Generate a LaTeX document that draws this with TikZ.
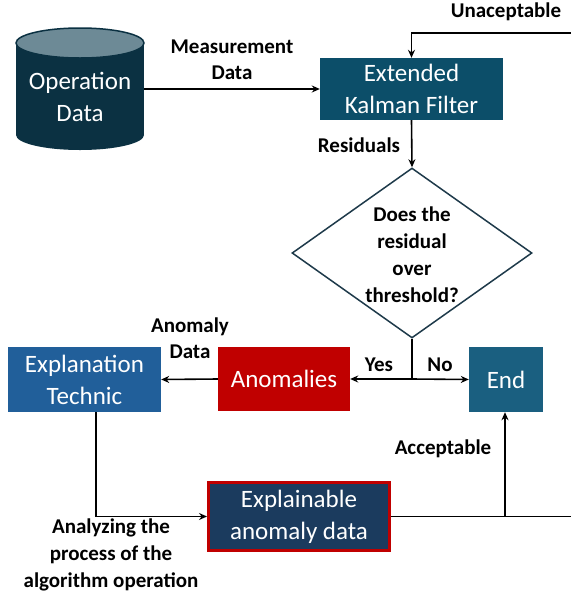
\documentclass[tikz,border=0pt]{standalone}
\usepackage{fontspec}
\setmainfont{Carlito}
\usetikzlibrary{shapes.geometric,arrows.meta}
\definecolor{cylbody}{HTML}{0B3142}
\definecolor{cyltop}{HTML}{6D8A96}
\definecolor{ekfblue}{HTML}{0C4E69}
\definecolor{anomred}{HTML}{C00000}
\definecolor{endblue}{HTML}{1A5F80}
\definecolor{techblue}{HTML}{215F9A}
\definecolor{xnavy}{HTML}{1B3B5E}
\definecolor{dialine}{HTML}{1E3A4A}
\begin{document}
\begin{tikzpicture}[x=1pt,y=-1pt,
  box/.style={rectangle, inner sep=0, text=white, align=center, font=\fontsize{25}{32}\selectfont},
  lbl/.style={align=center, inner sep=0, font=\bfseries\fontsize{21}{26}\selectfont},
  conn/.style={line width=1.6pt, -{Stealth[length=8pt,width=7pt]}},
  plain/.style={line width=1.6pt}]
\useasboundingbox (0,0) rectangle (571,598);

% database cylinder
\fill[cylbody] (16,43) rectangle (144,135);
\fill[cylbody] (80,135) ellipse [x radius=64, y radius=15];
\filldraw[fill=cyltop, draw=cylbody, line width=1.5pt] (80,43) ellipse [x radius=64, y radius=15];
\node[rectangle, inner sep=0, minimum width=128pt, minimum height=122pt] (opdata) at (80,89) {};
\node[box] (opdatatext) at (80,97) {Operation\\Data};

% process boxes
\node[box, fill=ekfblue, minimum width=183pt, minimum height=62pt] (ekf) at (411.5,89) {Extended\\Kalman Filter};
\node[diamond, draw=dialine, line width=1.5pt, fill=white, minimum width=240pt, minimum height=170pt, inner sep=0] (dec) at (412,253) {};
\node[lbl, font=\bfseries\fontsize{21}{27}\selectfont] (dectext) at (412,255) {Does the\\residual\\over\\threshold?};
\node[box, fill=anomred, minimum width=132pt, minimum height=64pt] (anom) at (284,379) {Anomalies};
\node[box, fill=endblue, minimum width=74pt, minimum height=65pt] (endn) at (506,379.5) {End};
\node[box, fill=techblue, minimum width=153pt, minimum height=65pt] (tech) at (84.5,379.5) {Explanation\\Technic};
\node[box, fill=xnavy, draw=anomred, line width=3pt, minimum width=181pt, minimum height=68pt] (xad) at (299,516.5) {Explainable\\anomaly data};

% routing points
\coordinate (split) at (412,379);
\coordinate (topright) at (572,33);
\coordinate (botright) at (572,516.5);
\coordinate (accfoot) at (505,516.5);

% connectors
\draw[conn] (opdata.east) -- (ekf.west);
\draw[conn] (topright) -| (ekf.north);
\draw[conn] (ekf.south) -- (dec.north);
\draw[plain] (dec.south) -- (split);
\draw[conn] (split) -- (anom.east);
\draw[conn] (split) -- (endn.west);
\draw[conn] (anom.west) -- (tech.east);
\draw[conn] ([xshift=11.5pt]tech.south) |- (xad.west);
\draw[plain] (xad.east) -- (botright);
\draw[conn] (accfoot) -- (accfoot |- endn.south);

% connector labels
\node[lbl] (measlbl) at (232,60) {Measurement\\Data};
\node[lbl] (reslbl) at (359,145) {Residuals};
\node[lbl] (unacc) at (506,12) {Unaceptable};
\node[lbl] (yeslbl) at (379,365) {Yes};
\node[lbl] (nolbl) at (440,365) {No};
\node[lbl] (anomlbl) at (190,338) {Anomaly\\Data};
\node[lbl] (acclbl) at (443,449) {Acceptable};
\node[lbl, font=\bfseries\fontsize{21}{27}\selectfont] (anallbl) at (111,555) {Analyzing the\\process of the\\algorithm operation};
\end{tikzpicture}
\end{document}
